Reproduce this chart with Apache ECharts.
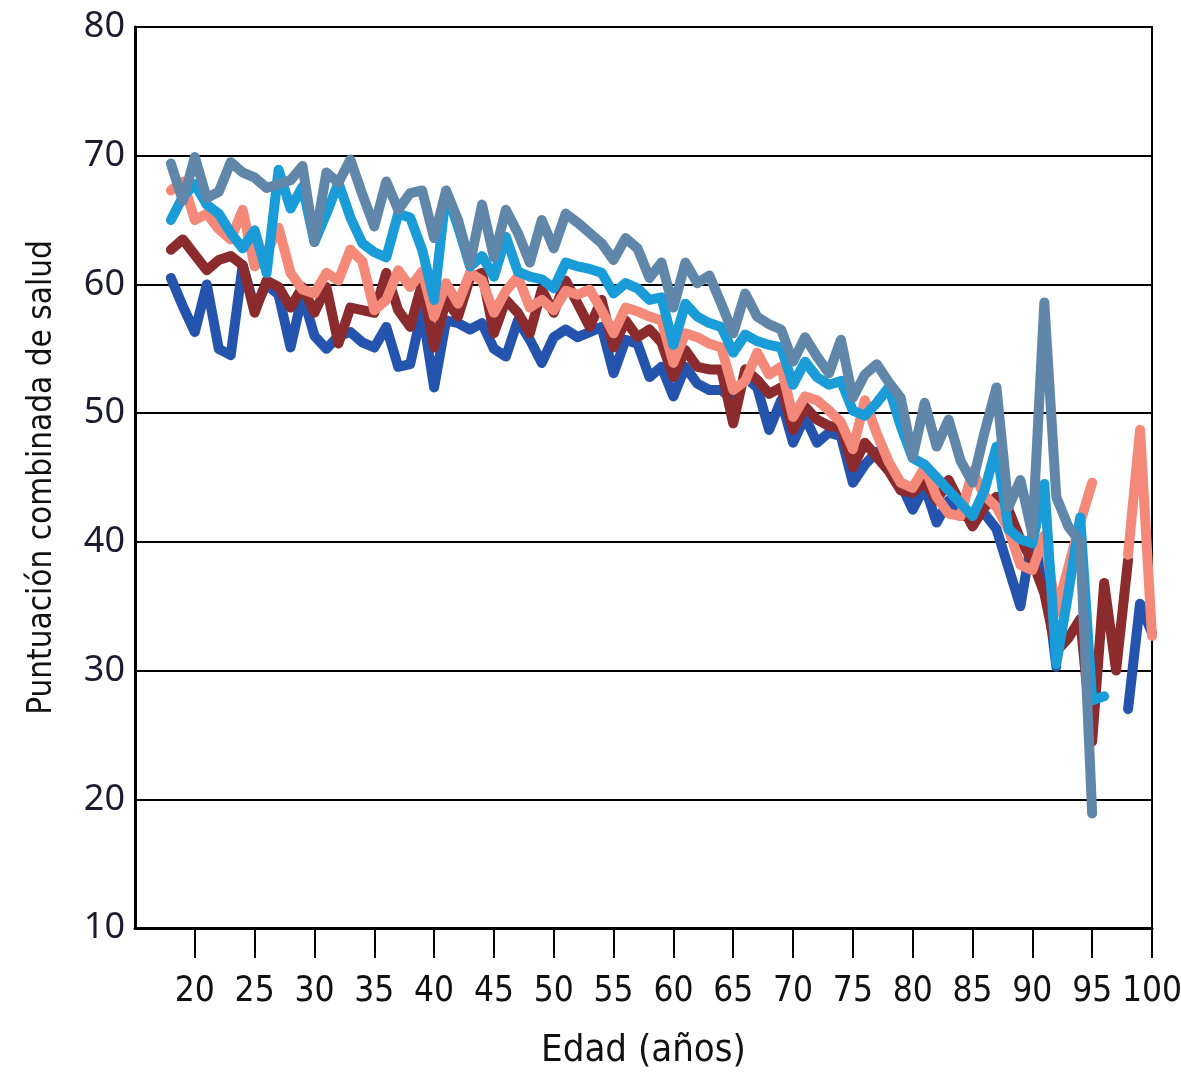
<!DOCTYPE html>
<html>
<head>
<meta charset="utf-8">
<script src="https://cdn.jsdelivr.net/npm/echarts@6/dist/echarts.min.js"></script>
<style>
  html, body { margin: 0; padding: 0; background: #fff; }
  #main { width: 1181px; height: 1073px; }
</style>
</head>
<body>
<div id="main"></div>
<script>
// ages 18..100
const ages = [];
for (let a = 18; a <= 100; a++) ages.push(a);

const ageTicks = [20, 25, 30, 35, 40, 45, 50, 55, 60, 65, 70, 75, 80, 85, 90, 95, 100];

const darkBlue = [
  60.5, 58.3, 56.3, 60, 55, 54.5, 61.5, 58.2, 60, 59.2,
  55.1, 59.2, 56, 55, 56, 56.3, 55.5, 55.1, 56.7, 53.6,
  53.8, 58, 52, 57.2, 57, 56.5, 57, 55, 54.4, 57.2,
  55.7, 53.9, 55.9, 56.5, 55.9, 56.3, 56.7, 53.1, 55.7, 55.4,
  52.8, 53.6, 51.3, 53.6, 52.3, 51.8, 51.8, 51, 52.8, 52,
  48.7, 51, 47.7, 49.7, 47.7, 48.5, 48.2, 44.6, 46, 47,
  46.1, 44.5, 42.5, 44.3, 41.5, 43.2, 42, 42, 42.2, 41,
  38, 35, 40.5, 38, 30.3, null, null, null, null, null,
  27, 35.2, 32.9
];

const darkRed = [
  62.7, 63.5, 62.3, 61.1, 61.9, 62.2, 61.5, 57.8, 60.3, 59.8,
  58.2, 59.8, 57.8, 59.8, 55.4, 58.2, 58, 57.8, 60.9, 58,
  56.7, 60.1, 55.1, 58.8, 57.5, 60.5, 60.9, 56.2, 58.8, 57.8,
  56.2, 59.6, 57.8, 60.3, 58.5, 56.7, 58.8, 55.1, 57.2, 55.9,
  56.5, 55.5, 52.8, 54.9, 53.6, 53.4, 53.4, 49.2, 53.4, 52.6,
  51.5, 52, 48.7, 50.5, 49.5, 49, 48.9, 45.8, 47.7, 46.6,
  45.5, 44, 43.8, 44.7, 43.2, 44.8, 43, 41.2, 42.7, 43.5,
  42.5, 40.2, 38.5, 36, 31.5, 32.5, 34, 24.5, 36.8, 30,
  38.6, null, null
];

const salmon = [
  67.3, 68, 65, 65.5, 64.3, 63.5, 65.8, 61.4, 62.5, 64.4,
  60.9, 59.6, 59.3, 60.9, 60.3, 62.7, 61.8, 58, 58.8, 61.1,
  59.8, 61, 57.5, 60.1, 58.5, 60.9, 60.3, 57.8, 59.5, 60.6,
  58.2, 58.8, 58, 59.5, 59.2, 59.6, 58, 56.2, 58.2, 57.9,
  57.5, 57.2, 53.9, 56.2, 55.9, 55.4, 55.1, 51.8, 52.5, 54.7,
  53, 53.6, 49.7, 51.3, 51, 50.2, 49.3, 47.2, 51, 48.4,
  46.2, 44.6, 44.2, 45.8, 43.5, 42.2, 42, 45.5, 43.6, 42.7,
  41, 38.2, 37.8, 40.5, 34.5, 38, 41.5, 44.6, null, null,
  39, 48.7, 32.7
];

const lightBlue = [
  65, 66.8, 67.8, 66.2, 65.5, 64, 62.8, 64.2, 60.9, 68.9,
  65.9, 67.6, 63.3, 65.5, 67.9, 65.2, 63.2, 62.5, 62.1, 65.5,
  65.2, 62.7, 58.8, 67.2, 64.5, 61.4, 62.2, 60.6, 63.7, 61,
  60.6, 60.4, 59.7, 61.7, 61.4, 61.2, 60.9, 59.3, 60.1, 59.7,
  58.8, 59, 55.3, 58.5, 57.5, 57, 56.7, 54.7, 56.1, 55.6,
  55.3, 55.1, 52.2, 54, 52.8, 52.2, 52.5, 50.2, 49.8, 50.8,
  52, 49, 46.5, 46, 45, 44, 43, 42, 44, 47.4,
  41, 40.2, 39.9, 44.5, 30.5, 36, 41.9, 27.7, 28, null,
  null, null, null
];

const steel = [
  69.4, 66.5, 69.9, 66.7, 67.2, 69.5, 68.7, 68.3, 67.5, 67.8,
  68.1, 69.2, 63.3, 68.7, 67.9, 69.7, 67, 64.5, 68, 65.8,
  67.1, 67.3, 63.6, 67.3, 65, 61.6, 66.2, 62.1, 65.8, 64,
  61.7, 65, 62.8, 65.5, 64.8, 64, 63.2, 61.9, 63.6, 62.8,
  60.5, 61.7, 58.2, 61.7, 60.1, 60.7, 58.5, 56.2, 59.3, 57.5,
  56.9, 56.5, 54, 55.9, 54.4, 53.1, 55.7, 51.2, 53, 53.8,
  52.4, 51.2, 46.6, 50.8, 47.4, 49.5, 46.3, 44.6, 48.5, 52,
  42.7, 44.8, 40.6, 58.6, 43.5, 41.2, 40, 18.9, null, null,
  null, null, null
];

const seriesDefs = [
  { name: "darkBlue", color: "#2454ad", values: darkBlue },
  { name: "darkRed", color: "#8b2b2d", values: darkRed },
  { name: "salmon", color: "#f4897a", values: salmon },
  { name: "lightBlue", color: "#1a9cd9", values: lightBlue },
  { name: "steel", color: "#6087a9", values: steel },
];

// condensed face for the axis texts, like the original
const labelFont = '"DejaVu Sans Condensed", "Liberation Sans Narrow", "Liberation Sans", sans-serif';

const myChart = echarts.init(document.getElementById("main"));
myChart.setOption({
  animation: false,
  grid: {
    left: 135,
    right: 29,
    top: 27,
    bottom: 145,
    outerBoundsMode: "none",
    containLabel: false,
    show: true,
    borderColor: "#000",
    borderWidth: 2,
  },
  xAxis: {
    type: "value",
    min: 15,
    max: 100,
    interval: 5,
    name: "Edad (años)",
    nameLocation: "middle",
    nameGap: 104,
    nameTextStyle: { fontFamily: labelFont, fontSize: 38, color: "#111" },
    axisLine: { show: true, lineStyle: { color: "#000", width: 3 } },
    axisTick: {
      show: true,
      inside: false,
      length: 30,
      customValues: ageTicks,
      lineStyle: { color: "#000", width: 2 },
    },
    axisLabel: {
      customValues: ageTicks,
      margin: 46,
      fontFamily: labelFont,
      fontSize: 35,
      color: "#111",
    },
    splitLine: { show: false },
  },
  yAxis: {
    type: "value",
    min: 10,
    max: 80,
    interval: 10,
    name: "Puntuación combinada de salud",
    nameLocation: "middle",
    nameGap: 76,
    nameRotate: 90,
    nameTextStyle: { fontFamily: labelFont, fontSize: 33, color: "#111" },
    axisLine: { show: true, lineStyle: { color: "#000", width: 3 } },
    axisTick: { show: false },
    axisLabel: {
      margin: 10,
      fontFamily: '"Noto Sans", sans-serif',
      fontSize: 36,
      color: "#1b1b2f",
    },
    splitLine: { show: true, lineStyle: { color: "#000", width: 2 } },
  },
  series: seriesDefs.map((s) => ({
    name: s.name,
    type: "line",
    showSymbol: false,
    symbol: "none",
    connectNulls: false,
    lineStyle: { color: s.color, width: 10, join: "round", cap: "round" },
    itemStyle: { color: s.color },
    data: ages.map((a, i) => [a, s.values[i]]),
  })),
});
</script>
</body>
</html>
